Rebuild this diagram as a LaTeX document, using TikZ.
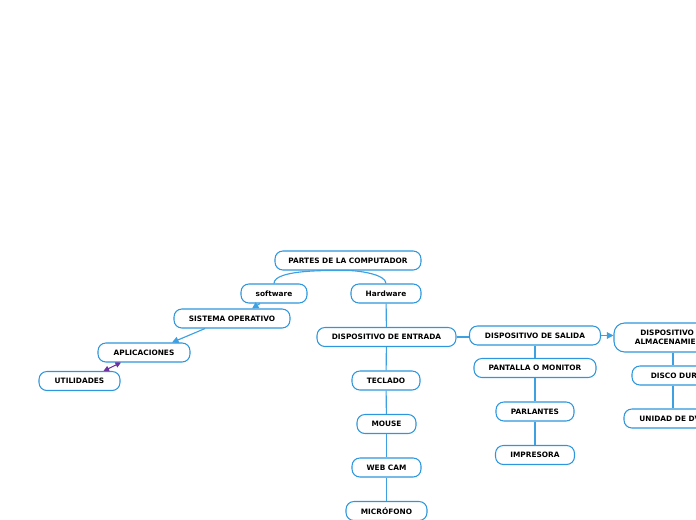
\documentclass[tikz,border=0pt]{standalone}
\usepackage{fontspec}
\setmainfont{DejaVu Sans}
\usepackage{xcolor}
\usepackage{tikz}
\usetikzlibrary{arrows.meta,positioning,calc}

\begin{document}
\begin{tikzpicture}[
  x=0.02cm, y=-0.02cm,
  font=\fontsize{4.2}{5.1}\selectfont\bfseries,
  topic/.style={
    draw=mapblue,
    line width=0.6pt,
    rounded corners=4.5pt,
    minimum height=0.38cm,
    align=center,
    inner xsep=2pt,
    inner ysep=1pt
  },
  link/.style={line width=0.65pt, draw=linkblue},
  tolink/.style={link, -{Triangle[length=1.3mm, width=1.3mm]}},
  both/.style={line width=0.6pt, draw=mappurple,
    {Triangle[length=1.1mm, width=1.1mm]}-{Triangle[length=1.1mm, width=1.1mm]}}
]

\definecolor{mapblue}{RGB}{45,150,220}
\definecolor{linkblue}{RGB}{60,160,225}
\definecolor{mappurple}{RGB}{110,50,160}

\clip (0,0) rectangle (696,520);
\useasboundingbox (0,0) rectangle (696,520);

% root and the two main branches
\node[topic, minimum width=2.92cm] (root) at (348,260.5) {PARTES DE LA COMPUTADOR};
\node[topic, minimum width=1.32cm] (soft) at (274,293.5) {software};
\node[topic, minimum width=1.40cm] (hard) at (386,293.5) {Hardware};

% software side
\node[topic, minimum width=2.32cm] (sisop) at (232,318.5) {SISTEMA OPERATIVO};
\node[topic, minimum width=1.84cm] (aplic) at (144,352.5) {APLICACIONES};
\node[topic, minimum width=1.62cm] (util) at (79.5,381) {UTILIDADES};

% hardware: input devices
\node[topic, minimum width=2.78cm] (entrada) at (386.5,337) {DISPOSITIVO DE ENTRADA};
\node[topic, minimum width=1.36cm] (teclado) at (386,380.5) {TECLADO};
\node[topic, minimum width=1.18cm] (mouse) at (386.5,424) {MOUSE};
\node[topic, minimum width=1.38cm] (webcam) at (386.5,467.5) {WEB CAM};
\node[topic, minimum width=1.62cm] (micro) at (386.5,511) {MICRÓFONO};

% hardware: output devices
\node[topic, minimum width=2.62cm] (salida) at (535,335.5) {DISPOSITIVO DE SALIDA};
\node[topic, minimum width=2.44cm] (pantalla) at (535,368) {PANTALLA O MONITOR};
\node[topic, minimum width=1.56cm] (parlantes) at (535,411.5) {PARLANTES};
\node[topic, minimum width=1.58cm] (impresora) at (535,455) {IMPRESORA};

% hardware: storage (runs past the right edge)
\node[topic, minimum width=2.40cm, minimum height=0.58cm, rounded corners=6pt] (almac) at (674,337.5)
  {DISPOSITIVO DE\\ALMACENAMIENTO};
\node[topic, minimum width=1.80cm] (disco) at (677,375.5) {DISCO DURO};
\node[topic, minimum width=1.96cm] (dvd) at (673,418.5) {UNIDAD DE DVD};

% connectors
\draw[link] (root.south) to[out=180, in=90, looseness=0.5] (soft.north);
\draw[link] (root.south) to[out=0, in=90, looseness=0.6] (hard.north);
\draw[tolink] ($(soft.south)+(-14,0)$) -- ($(sisop.north)+(20,0)$);
\draw[tolink] ($(sisop.south)+(-27,0)$) -- ($(aplic.north)+(28,0)$);
\draw[both] ($(aplic.south)+(-23,0)$) -- ($(util.north)+(24,0)$);

\draw[link] (hard) -- (entrada);
\draw[link] (entrada) -- (teclado);
\draw[link] (teclado) -- (mouse);
\draw[link] (mouse) -- (webcam);
\draw[link] (webcam) -- (micro);

\draw[link] (entrada.east) -- (entrada.east -| salida.west);
\draw[tolink] (salida.east) -- (salida.east -| almac.west);
\draw[link] (salida) -- (pantalla);
\draw[link] (pantalla) -- (parlantes);
\draw[link] (parlantes) -- (impresora);

\draw[link] ($(almac.south)+(-1,0)$) -- ($(disco.north)+(-4,0)$);
\draw[link] ($(disco.south)+(-4,0)$) -- (dvd.north);

\end{tikzpicture}
\end{document}
